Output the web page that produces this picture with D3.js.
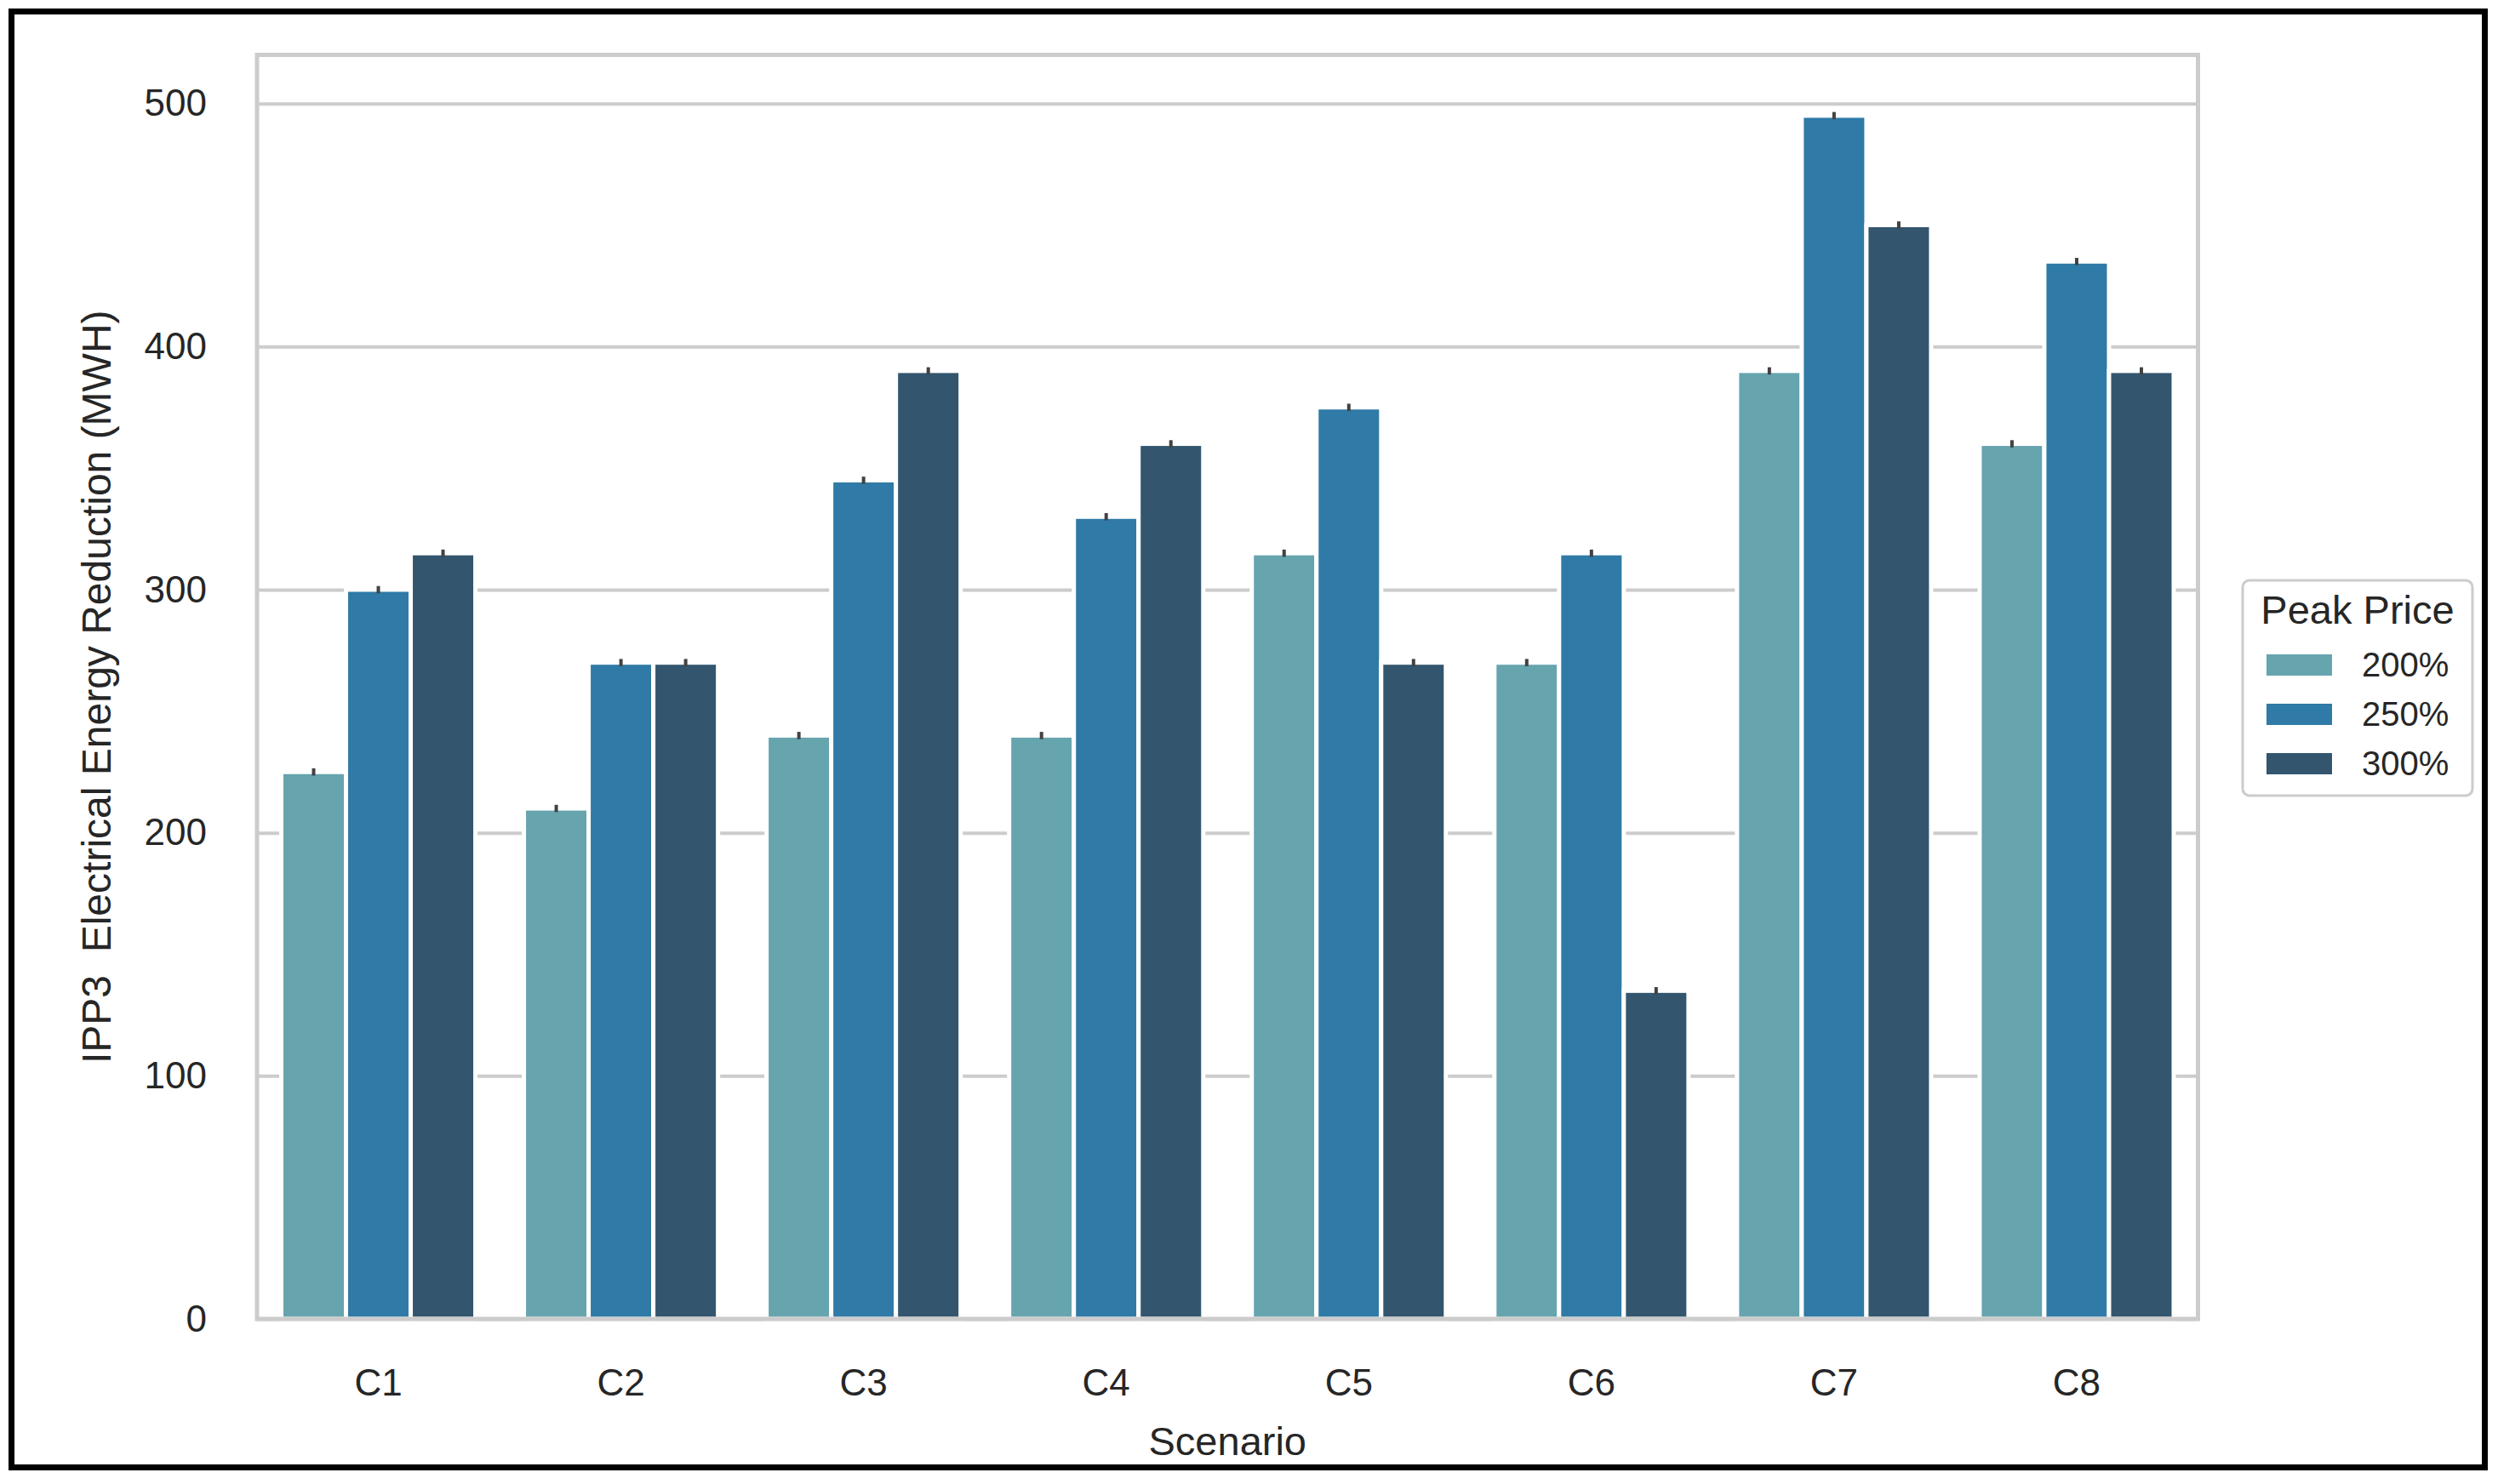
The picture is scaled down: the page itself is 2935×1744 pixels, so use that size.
<!DOCTYPE html>
<html>
<head>
<meta charset="utf-8">
<script src="https://cdn.jsdelivr.net/npm/d3@7"></script>
<style>
  body { margin: 0; background: #fff; }
  text { font-family: "Liberation Sans", Arial, sans-serif; fill: #262626; }
</style>
</head>
<body>
<svg id="chart"></svg>
<script>
// values
let scenarios = ["C1", "C2", "C3", "C4", "C5", "C6", "C7", "C8"]
let peakPrices = ["200%", "250%", "300%"]
let values200 = [225, 210, 240, 240, 315, 270, 390, 360]
let values250 = [300, 270, 345, 330, 375, 315, 495, 435]
let values300 = [315, 270, 390, 360, 270, 135, 450, 390]
let errors200 = [1.5, 1.5, 1.5, 1.5, 1.5, 1.5, 1.5, 1.5]
let errors250 = [1.5, 1.5, 1.5, 1.5, 1.5, 1.5, 1.5, 1.5]
let errors300 = [1.5, 1.5, 1.5, 1.5, 1.5, 1.5, 1.5, 1.5]
let yTicks = [0, 100, 200, 300, 400, 500]
let barColors = ["#66a4ae", "#2f7aa6", "#33566e"]

let width = 2935
let height = 1744
let plotLeft = 302, plotRight = 2582.5, plotTop = 64.5, plotBottom = 1550

let svg = d3.select("#chart")
  .attr("width", width)
  .attr("height", height)

// build rows for the bars
let seriesValues = [values200, values250, values300]
let seriesErrors = [errors200, errors250, errors300]
let rows = []
scenarios.forEach((s, i) => {
  peakPrices.forEach((p, j) => {
    rows.push({ scenario: s, price: p, value: seriesValues[j][i], err: seriesErrors[j][i], color: barColors[j] })
  })
})

let xScale = d3.scaleBand()
  .domain(scenarios)
  .range([plotLeft, plotRight])
  .paddingInner(0.2)
  .paddingOuter(0.1)

let subScale = d3.scaleBand()
  .domain(peakPrices)
  .range([0, xScale.bandwidth()])

let yScale = d3.scaleLinear()
  .domain([0, 520])
  .range([plotBottom, plotTop])

// outer black frame
svg.append("rect")
  .attr("x", 13.5).attr("y", 13.5)
  .attr("width", 2906).attr("height", 1711)
  .attr("fill", "white")
  .attr("stroke", "black")
  .attr("stroke-width", 7)

// grid lines
let grid = svg.append("g")
  .attr("transform", "translate(" + plotLeft + ",0)")
  .call(d3.axisLeft(yScale).tickValues(yTicks).tickSize(-(plotRight - plotLeft)).tickFormat(""))
grid.select(".domain").remove()
grid.selectAll("line").attr("stroke", "#cccccc").attr("stroke-width", 4)

// bars
svg.selectAll("rect.bar")
  .data(rows)
  .enter()
  .append("rect")
  .attr("class", "bar")
  .attr("x", d => xScale(d.scenario) + subScale(d.price))
  .attr("width", subScale.bandwidth())
  .attr("y", d => yScale(d.value))
  .attr("height", d => yScale(0) - yScale(d.value))
  .attr("fill", d => d.color)
  .attr("stroke", "white")
  .attr("stroke-width", 5)

// error bars
svg.selectAll("line.err")
  .data(rows)
  .enter()
  .append("line")
  .attr("class", "err")
  .attr("x1", d => xScale(d.scenario) + subScale(d.price) + subScale.bandwidth() / 2)
  .attr("x2", d => xScale(d.scenario) + subScale(d.price) + subScale.bandwidth() / 2)
  .attr("y1", d => yScale(d.value - d.err))
  .attr("y2", d => yScale(d.value + d.err))
  .attr("stroke", "#424242")
  .attr("stroke-width", 4)

// plot frame
svg.append("rect")
  .attr("x", plotLeft).attr("y", plotTop)
  .attr("width", plotRight - plotLeft).attr("height", plotBottom - plotTop)
  .attr("fill", "none")
  .attr("stroke", "#cccccc")
  .attr("stroke-width", 5)

// axes
let xAxis = svg.append("g")
  .attr("transform", "translate(0," + plotBottom + ")")
  .call(d3.axisBottom(xScale).tickSize(0).tickPadding(59))
xAxis.select(".domain").remove()
xAxis.selectAll("text").style("font-size", "44px").attr("fill", "#262626")

let yAxis = svg.append("g")
  .attr("transform", "translate(" + plotLeft + ",0)")
  .call(d3.axisLeft(yScale).tickValues(yTicks).tickSize(0).tickPadding(59))
yAxis.select(".domain").remove()
yAxis.selectAll("text").style("font-size", "44px").attr("fill", "#262626")

// axis titles
svg.append("text")
  .attr("x", (plotLeft + plotRight) / 2)
  .attr("y", 1710)
  .attr("text-anchor", "middle")
  .style("font-size", "47px")
  .text("Scenario")

svg.append("text")
  .attr("transform", "translate(130," + (plotTop + plotBottom) / 2 + ") rotate(-90)")
  .attr("text-anchor", "middle")
  .style("font-size", "48px")
  .style("white-space", "pre")
  .text("IPP3  Electrical Energy Reduction (MWH)")

// legend
let legend = svg.append("g")
legend.append("rect")
  .attr("x", 2635).attr("y", 682)
  .attr("width", 270).attr("height", 253)
  .attr("rx", 8)
  .attr("fill", "white")
  .attr("stroke", "#cccccc")
  .attr("stroke-width", 3)

legend.append("text")
  .attr("x", 2770).attr("y", 733)
  .attr("text-anchor", "middle")
  .style("font-size", "47px")
  .text("Peak Price")

let items = legend.selectAll("g.item")
  .data(peakPrices)
  .enter()
  .append("g")
  .attr("class", "item")
  .attr("transform", (d, i) => "translate(0," + (781 + i * 58) + ")")

items.append("rect")
  .attr("x", 2663).attr("y", -12)
  .attr("width", 77).attr("height", 25)
  .attr("fill", (d, i) => barColors[i])

items.append("text")
  .attr("x", 2775).attr("y", 14)
  .style("font-size", "40px")
  .text(d => d)
</script>
</body>
</html>
